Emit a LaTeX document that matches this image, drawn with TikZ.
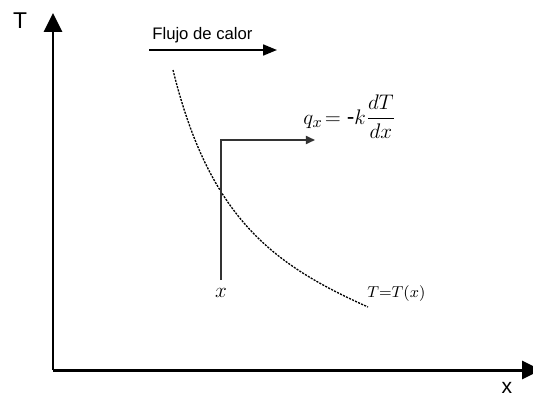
\documentclass[tikz,border=0pt]{standalone}
\usepackage{amsmath}
\usepackage{fontspec}
\setmainfont{Liberation Sans}
\usepackage{tikz}
\usetikzlibrary{arrows.meta,positioning}

\begin{document}
\begin{tikzpicture}[
  x=0.02cm, y=-0.02cm,
  axis/.style={line width=1.7pt, -{Triangle[length=10.8pt, width=10.2pt]}},
  flow/.style={line width=1.1pt, -{Triangle[length=7.9pt, width=6.2pt]}},
  probe/.style={line width=1pt, black!80, -{Triangle[length=5.2pt, width=4.6pt]}},
  profile/.style={line width=0.75pt, dash pattern=on 1.2pt off 0.7pt},
  sanslabel/.style={inner sep=0pt, font=\fontsize{13}{15}\selectfont},
  mathlabel/.style={inner sep=0pt}
]
\useasboundingbox (0,0) rectangle (533,402);
% axes
\coordinate (origin) at (53,370);
\coordinate (ytip) at (53,13);
\coordinate (xtip) at (541,370);
\draw[axis] (origin) -- (ytip);
\draw[axis] (origin) -- (xtip);
\node[sanslabel, anchor=base] (tlabel) at (20,29) {T};
\node[sanslabel, anchor=base, font=\fontsize{12}{14}\selectfont] (xlabel) at (507,393) {x};
% heat flow
\node[sanslabel, anchor=base west, font=\fontsize{9.5}{11}\selectfont] (flowtext) at (152,40) {Flujo de calor};
\coordinate (flowstart) at (149,50);
\coordinate (flowend) at (277,50);
\draw[flow] (flowstart) -- (flowend);
% temperature profile
\coordinate (pstart) at (173,70);
\coordinate (pend) at (368,307);
\draw[profile] (pstart) .. controls (209.4,218.2) and (273,264.5) .. (pend);
\node[mathlabel, anchor=base west, font=\fontsize{9.5}{11}\selectfont] (tofx) at (367,297) {$T{=}T(x)$};
% flux at x
\node[mathlabel, anchor=base, font=\fontsize{12}{14}\selectfont] (xpos) at (221,297) {$x$};
\coordinate (xbase) at (221,280);
\coordinate (corner) at (221,140);
\coordinate (qtip) at (315,140);
\draw[probe] (xbase) -- (corner) -- (qtip);
\node[mathlabel, anchor=base west, font=\fontsize{13}{15}\selectfont] (fourier) at (303,124)
  {$q_{x}\!= \mbox{-}k\dfrac{dT}{dx}$};
\end{tikzpicture}
\end{document}
